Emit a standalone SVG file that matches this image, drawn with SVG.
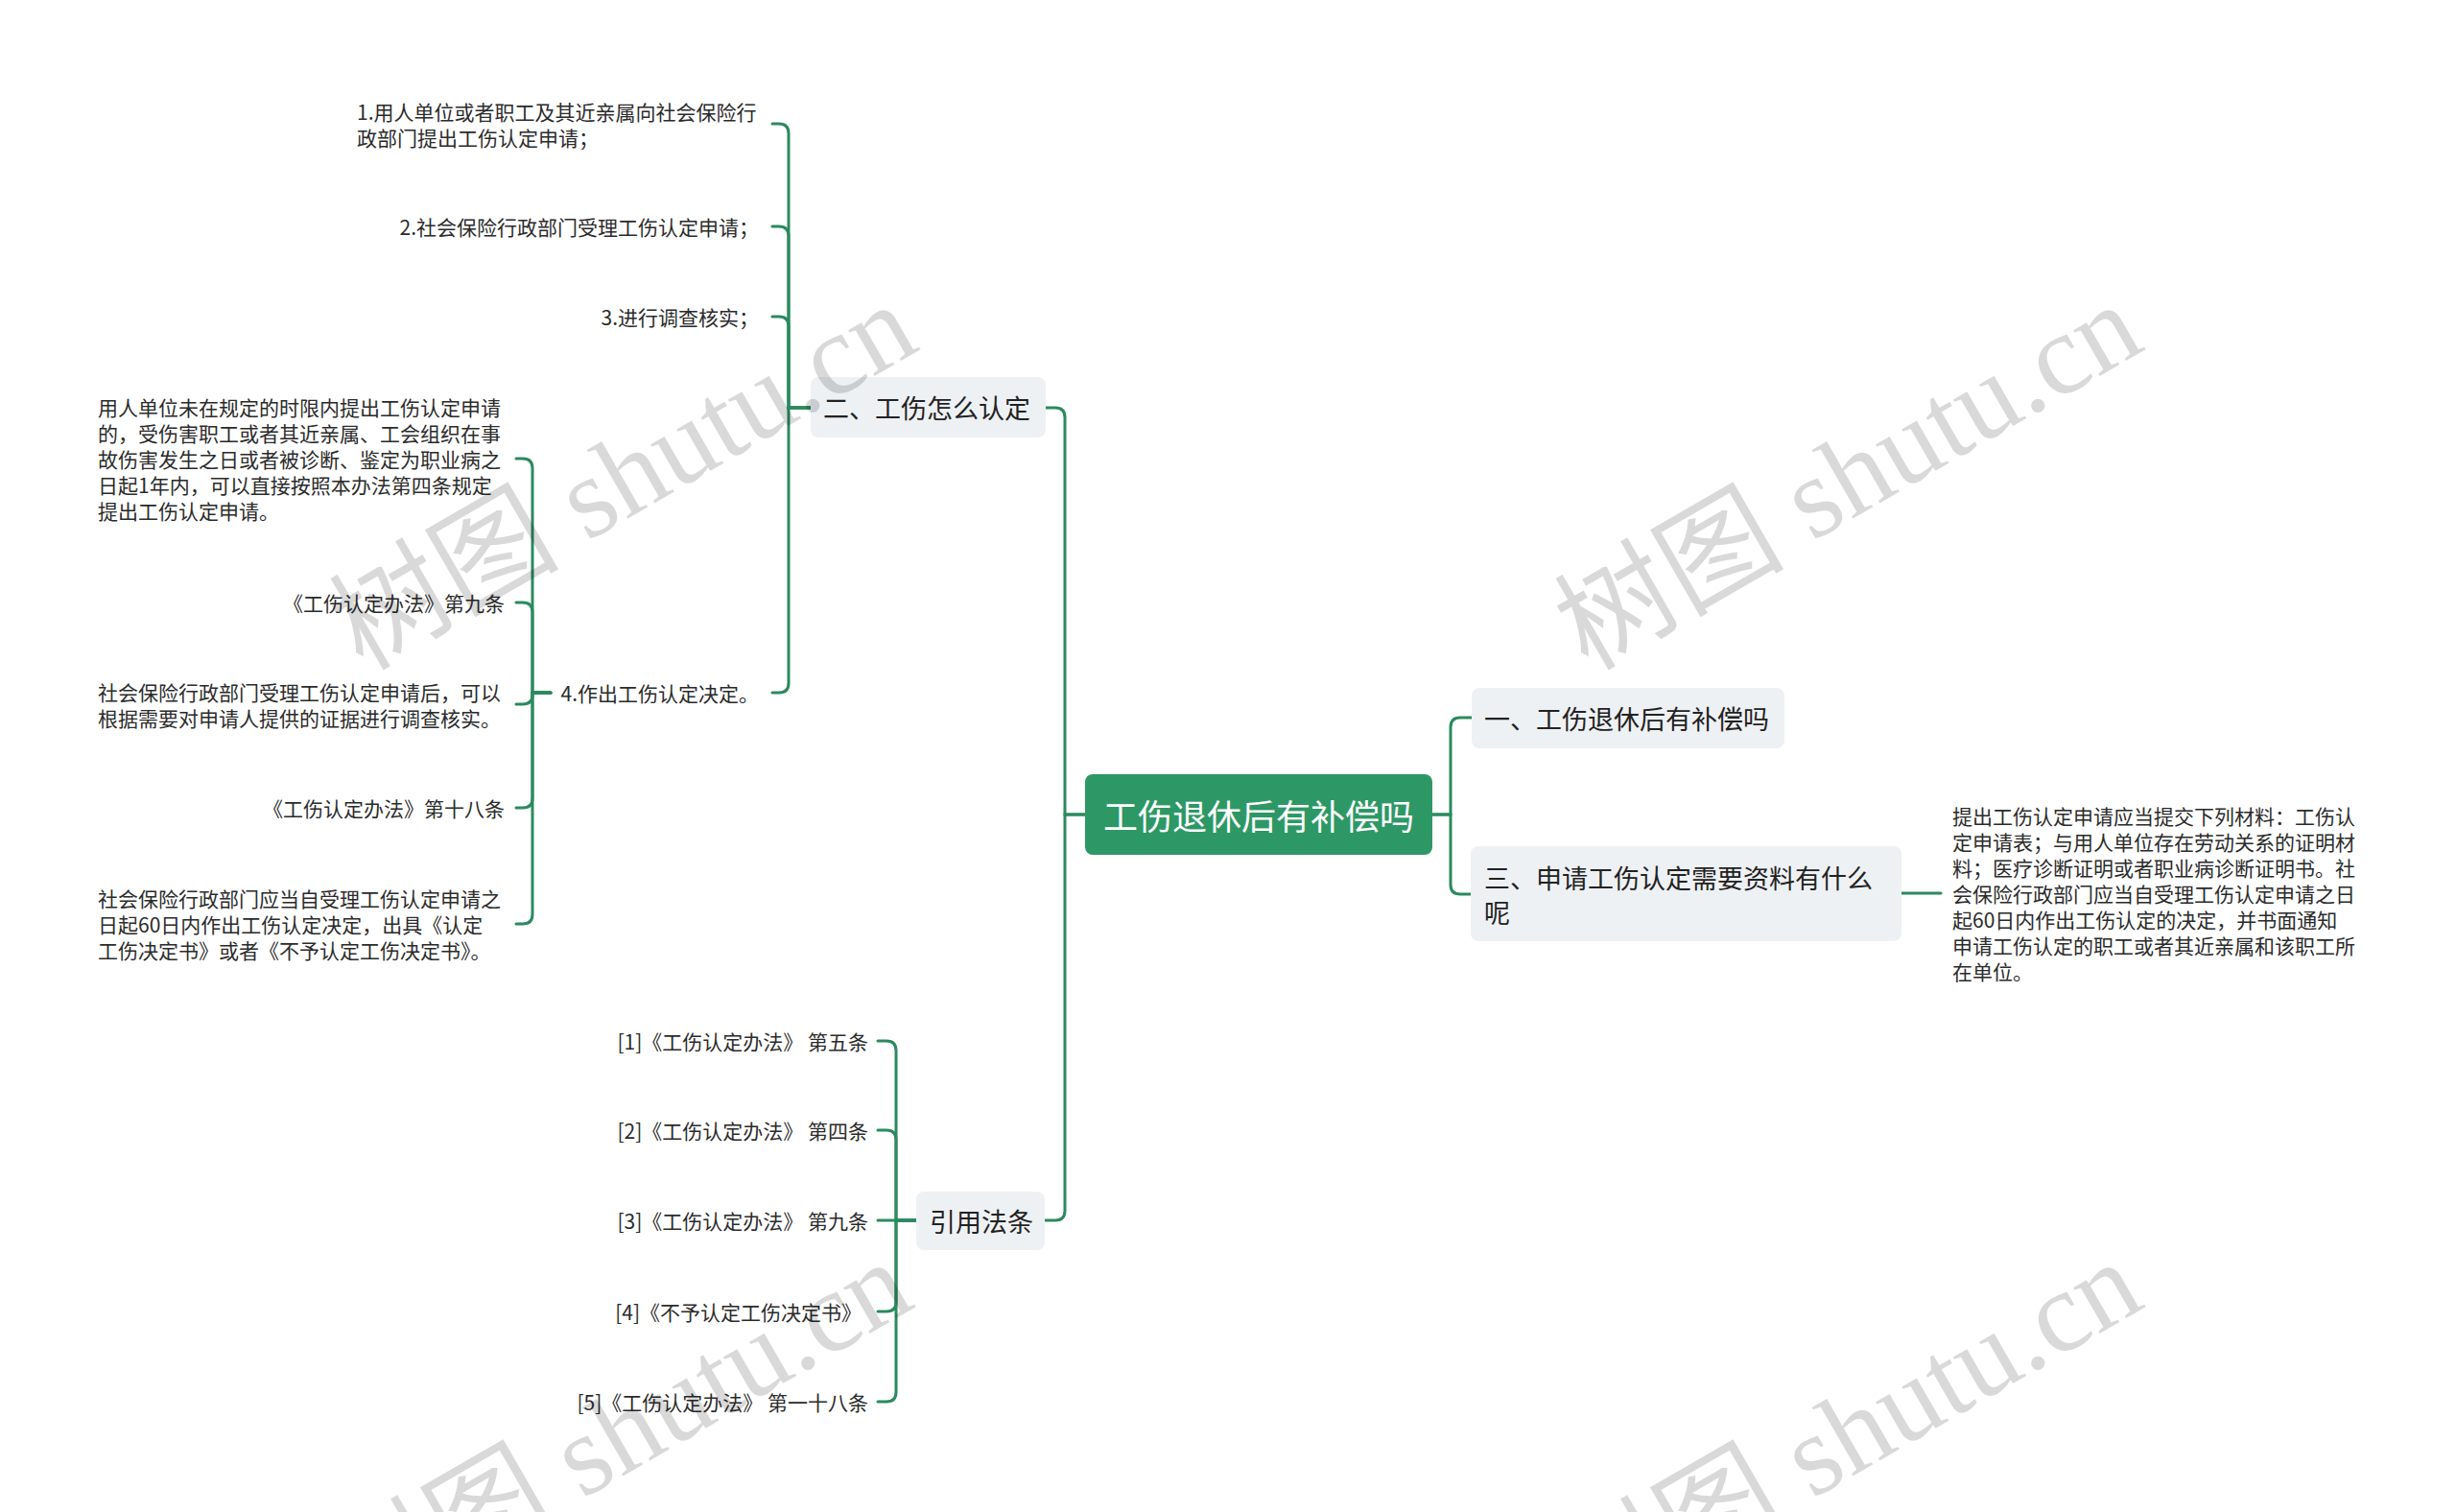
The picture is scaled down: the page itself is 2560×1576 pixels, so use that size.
<svg xmlns="http://www.w3.org/2000/svg" width="2560" height="1576" viewBox="0 0 2560 1576">
<style>
.bg{fill:#ffffff}
.lk{fill:none;stroke:#2b8a5e;stroke-width:3;stroke-linecap:round}
.root{fill:#2d9865}
.rootT{font-family:"Noto Sans CJK SC","Microsoft YaHei",sans-serif;font-size:36px;fill:#ffffff;dominant-baseline:central;text-anchor:middle}
.br{fill:#eef1f4}
.brT{font-family:"Noto Sans CJK SC",sans-serif;font-size:27px;fill:#222222;dominant-baseline:central}
.lf{font-family:"Noto Sans CJK SC",sans-serif;font-size:21px;fill:#2b2b2b;dominant-baseline:central}
.end{text-anchor:end}
.wm{font-family:"Liberation Serif","Noto Sans CJK SC",serif;font-size:120px;fill:#000000;fill-opacity:0.15}
</style>
<rect class="bg" x="0" y="0" width="2560" height="1576"/>

<g id="connectors">
  <path class="lk" d="M1131,849 H1110 V435 Q1110,425 1100,425 H1090"/>
  <path class="lk" d="M1131,849 H1110 V1262 Q1110,1272 1100,1272 H1089"/>
  <path class="lk" d="M1493,849 H1512 V758 Q1512,748 1522,748 H1534"/>
  <path class="lk" d="M1493,849 H1512 V922 Q1512,932 1522,932 H1533"/>
  <path class="lk" d="M1982,931 H2023"/>
  <path class="lk" d="M845,425 H822 V139 Q822,129 812,129 H805"/>
  <path class="lk" d="M845,425 H822 V246 Q822,236 812,236 H805"/>
  <path class="lk" d="M845,425 H822 V340 Q822,330 812,330 H805"/>
  <path class="lk" d="M845,425 H822 V712 Q822,722 812,722 H805"/>
  <path class="lk" d="M574,722 H555 V488 Q555,478 545,478 H538"/>
  <path class="lk" d="M574,722 H555 V638 Q555,628 545,628 H538"/>
  <path class="lk" d="M574,722 H555 V724 Q555,734 545,734 H538"/>
  <path class="lk" d="M574,722 H555 V832 Q555,842 545,842 H538"/>
  <path class="lk" d="M574,722 H555 V953 Q555,963 545,963 H538"/>
  <path class="lk" d="M955,1272 H934 V1095 Q934,1085 924,1085 H915"/>
  <path class="lk" d="M955,1272 H934 V1188 Q934,1178 924,1178 H915"/>
  <path class="lk" d="M955,1272 H915"/>
  <path class="lk" d="M955,1272 H934 V1357 Q934,1367 924,1367 H915"/>
  <path class="lk" d="M955,1272 H934 V1451 Q934,1461 924,1461 H915"/>
</g>

<g id="root">
  <rect class="root" x="1131" y="807" width="362" height="84" rx="8"/>
  <text class="rootT" x="1312" y="849">工伤退休后有补偿吗</text>
</g>

<g id="b1">
  <rect class="br" x="1534" y="717" width="326" height="63" rx="8"/>
  <text class="brT" x="1547" y="748.5">一、工伤退休后有补偿吗</text>
</g>

<g id="b3">
  <rect class="br" x="1533" y="882" width="449" height="99" rx="8"/>
  <text class="brT" x="1547" y="914">三、申请工伤认定需要资料有什么</text>
  <text class="brT" x="1547" y="950">呢</text>
</g>

<g id="b3-leaf">
  <text class="lf" x="2035" y="850">提出工伤认定申请应当提交下列材料：工伤认</text>
  <text class="lf" x="2035" y="877">定申请表；与用人单位存在劳动关系的证明材</text>
  <text class="lf" x="2035" y="904">料；医疗诊断证明或者职业病诊断证明书。社</text>
  <text class="lf" x="2035" y="931">会保险行政部门应当自受理工伤认定申请之日</text>
  <text class="lf" x="2035" y="958">起60日内作出工伤认定的决定，并书面通知</text>
  <text class="lf" x="2035" y="985">申请工伤认定的职工或者其近亲属和该职工所</text>
  <text class="lf" x="2035" y="1012">在单位。</text>
</g>

<g id="b2">
  <rect class="br" x="845" y="393" width="245" height="63" rx="8"/>
  <text class="brT" x="858" y="424.5">二、工伤怎么认定</text>
</g>

<g id="b2-1">
  <text class="lf" x="372" y="116">1.用人单位或者职工及其近亲属向社会保险行</text>
  <text class="lf" x="372" y="143">政部门提出工伤认定申请；</text>
</g>
<g id="b2-2">
  <text class="lf end" x="791" y="236">2.社会保险行政部门受理工伤认定申请；</text>
</g>
<g id="b2-3">
  <text class="lf end" x="791" y="330">3.进行调查核实；</text>
</g>
<g id="b2-4">
  <text class="lf end" x="791" y="722">4.作出工伤认定决定。</text>
</g>

<g id="b2-4-1">
  <text class="lf" x="102" y="424">用人单位未在规定的时限内提出工伤认定申请</text>
  <text class="lf" x="102" y="451">的，受伤害职工或者其近亲属、工会组织在事</text>
  <text class="lf" x="102" y="478">故伤害发生之日或者被诊断、鉴定为职业病之</text>
  <text class="lf" x="102" y="505">日起1年内，可以直接按照本办法第四条规定</text>
  <text class="lf" x="102" y="532">提出工伤认定申请。</text>
</g>
<g id="b2-4-2">
  <text class="lf end" x="526" y="628">《工伤认定办法》第九条</text>
</g>
<g id="b2-4-3">
  <text class="lf" x="102" y="720.5">社会保险行政部门受理工伤认定申请后，可以</text>
  <text class="lf" x="102" y="747.5">根据需要对申请人提供的证据进行调查核实。</text>
</g>
<g id="b2-4-4">
  <text class="lf end" x="526" y="842">《工伤认定办法》第十八条</text>
</g>
<g id="b2-4-5">
  <text class="lf" x="102" y="936">社会保险行政部门应当自受理工伤认定申请之</text>
  <text class="lf" x="102" y="963">日起60日内作出工伤认定决定，出具《认定</text>
  <text class="lf" x="102" y="990">工伤决定书》或者《不予认定工伤决定书》。</text>
</g>

<g id="b4">
  <rect class="br" x="955" y="1242" width="134" height="61" rx="8"/>
  <text class="brT" x="969" y="1272.5">引用法条</text>
</g>
<g id="b4-1"><text class="lf end" x="905" y="1085">[1]《工伤认定办法》 第五条</text></g>
<g id="b4-2"><text class="lf end" x="905" y="1178">[2]《工伤认定办法》 第四条</text></g>
<g id="b4-3"><text class="lf end" x="905" y="1272">[3]《工伤认定办法》 第九条</text></g>
<g id="b4-4"><text class="lf end" x="898" y="1367">[4]《不予认定工伤决定书》</text></g>
<g id="b4-5"><text class="lf end" x="905" y="1461">[5]《工伤认定办法》 第一十八条</text></g>

<g id="watermarks">
  <text class="wm" transform="translate(378,700) rotate(-30)">树图 shutu.cn</text>
  <text class="wm" transform="translate(1655,700) rotate(-30)">树图 shutu.cn</text>
  <text class="wm" transform="translate(373,1698) rotate(-30)">树图 shutu.cn</text>
  <text class="wm" transform="translate(1655,1698) rotate(-30)">树图 shutu.cn</text>
</g>
</svg>
